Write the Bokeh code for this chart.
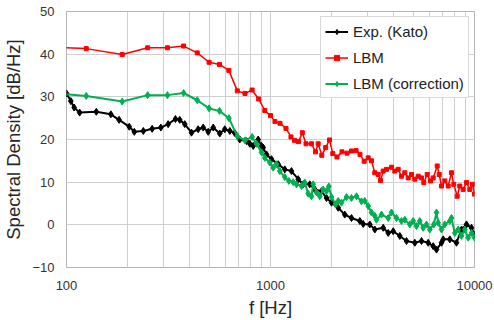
from bokeh.plotting import figure
from bokeh.models import (Legend, LegendItem, SingleIntervalTicker, LogTicker,
                          NumeralTickFormatter, Range1d)
from bokeh.embed import file_html
from bokeh.resources import INLINE

# ---- data ----
exp_f = [100, 105, 109, 116, 140, 165, 181, 203, 215, 238, 263, 290, 315, 342, 359,
         380, 410, 442, 468, 495, 524, 564, 597, 632, 668, 707, 763, 792, 823, 870,
         904, 921, 956, 1011, 1091, 1175, 1267, 1367, 1447, 1558, 1649, 1778, 1882,
         1991, 2147, 2313, 2495, 2741, 2848, 3068, 3246, 3569, 3776, 3995, 4304,
         4642, 5100, 5498, 5929, 6273, 6511, 6890, 7024, 7568, 8162, 8636, 9137,
         9667, 10000]
exp_v = [30.8, 29.0, 27.5, 26.3, 26.5, 25.9, 24.6, 23.0, 21.8, 22.0, 22.5, 22.8, 23.6,
         24.8, 24.6, 23.6, 21.6, 22.4, 22.8, 21.8, 22.8, 21.4, 22.4, 22.0, 21.5, 20.0,
         19.6, 19.0, 18.5, 20.0, 18.5, 18.1, 16.5, 15.4, 14.2, 13.0, 12.6, 10.7, 9.5,
         9.5, 8.3, 7.9, 6.3, 5.2, 4.0, 2.4, 1.6, 0.9, 0.2, 0.1, -1.1, -0.7, -1.9, -1.5,
         -2.6, -3.8, -4.2, -3.8, -4.2, -5.0, -5.8, -4.2, -3.4, -3.4, -4.2, -1.1, 0.1,
         -0.7, -2.3]

lbm_f = [62.5, 125, 187.5, 250, 312.5, 375, 437.5, 500, 562.5, 625, 687.5, 750, 812.5,
         875, 937.5, 1000, 1052, 1113, 1191, 1260, 1311, 1372, 1432, 1493, 1588, 1662,
         1713, 1784, 1864, 1946, 2020, 2118, 2241, 2371, 2495, 2628, 2746, 2879, 3012,
         3127, 3245, 3372, 3461, 3568, 3703, 3918, 4067, 4226, 4386, 4553, 4732, 4911,
         5097, 5297, 5498, 5643, 5863, 6086, 6273, 6564, 6714, 6890, 7151, 7430, 7712,
         7915, 8225, 8469, 8801, 9137, 9484, 9777, 10000]
lbm_v = [41.9, 41.3, 39.9, 41.5, 41.5, 41.9, 40.3, 38.1, 37.6, 36.2, 31.4, 30.8, 31.6,
         29.5, 26.8, 25.6, 24.2, 23.8, 22.6, 20.6, 19.8, 19.5, 21.6, 19.0, 19.0, 17.1,
         19.0, 16.3, 18.1, 19.9, 16.7, 15.9, 17.1, 16.8, 17.3, 17.4, 16.5, 14.9, 15.7,
         15.0, 12.2, 11.8, 10.4, 12.6, 13.0, 13.5, 12.6, 13.0, 11.4, 12.2, 11.0, 11.8,
         10.7, 11.4, 11.0, 9.9, 11.8, 10.3, 11.0, 13.8, 11.8, 9.1, 10.3, 9.1, 12.2,
         9.5, 6.7, 9.1, 8.3, 9.9, 8.3, 9.5, 7.2]

cor_f = [62.5, 125, 187.5, 250, 312.5, 375, 437.5, 500, 562.5, 625, 687.5, 750, 812.5,
         854, 903, 938, 992, 1031, 1070, 1111, 1175, 1230, 1292, 1341, 1419, 1473, 1530,
         1588, 1619, 1681, 1744, 1812, 1881, 1931, 1991, 2083, 2147, 2228, 2358, 2495,
         2640, 2793, 2899, 3012, 3127, 3245, 3308, 3500, 3776, 3918, 4146, 4386, 4553,
         4818, 5006, 5196, 5393, 5605, 5817, 6038, 6317, 6512, 6638, 6890, 7151, 7568,
         7712, 8007, 8318, 8636, 8964, 9310, 9667, 10000]
cor_v = [31.4, 30.2, 28.9, 30.4, 30.4, 30.9, 29.2, 27.3, 26.7, 25.0, 20.8, 19.8, 20.6,
         19.0, 17.0, 15.7, 14.6, 13.4, 14.2, 12.6, 11.2, 10.3, 10.0, 9.5, 9.1, 9.9, 7.3,
         6.7, 9.5, 7.6, 6.7, 8.3, 7.9, 9.0, 6.5, 4.8, 5.6, 5.2, 6.5, 6.3, 6.7, 5.5, 5.6,
         4.4, 2.9, 2.1, 1.2, 2.4, 1.6, 2.9, 1.6, 0.9, 1.2, 0.1, 0.9, -0.3, 0.9, -0.7,
         0.1, -1.1, 0.1, 2.9, 0.5, -1.1, 0.1, 0.9, 1.6, -1.9, -1.1, -2.6, -1.1, -3.0,
         -1.9, -3.0]

series_names = ["Exp. (Kato)", "LBM", "LBM (correction)"]
y_title = "Spectral Density [dB/Hz]"
x_title = "f [Hz]"
y_ticks_interval = 10

FONT = "Liberation Sans"

p = figure(width=494, height=320, x_axis_type="log",
           x_range=Range1d(100, 10000), y_range=Range1d(-10, 50),
           output_backend="svg", toolbar_location=None,
           min_border_left=65, min_border_right=20, min_border_top=11,
           min_border_bottom=53)
p.title.visible = False
p.background_fill_color = "white"
p.border_fill_color = "white"
p.outline_line_color = "#b4b4b4"
p.outline_line_width = 1

# axes
p.xaxis.ticker = LogTicker(num_minor_ticks=10)
p.xaxis.formatter = NumeralTickFormatter(format="0")
p.yaxis.ticker = SingleIntervalTicker(interval=y_ticks_interval, num_minor_ticks=0)
for ax in (p.xaxis[0], p.yaxis[0]):
    ax.axis_line_color = None
    ax.major_tick_line_color = None
    ax.minor_tick_line_color = None
    ax.major_tick_out = 0
    ax.major_tick_in = 0
    ax.minor_tick_out = 0
    ax.minor_tick_in = 0
    ax.major_label_text_font = FONT
    ax.major_label_text_font_size = "13px"
    ax.major_label_text_color = "#333333"
    ax.axis_label_text_font = FONT
    ax.axis_label_text_font_size = "18.5px"
    ax.axis_label_text_font_style = "normal"
    ax.axis_label_text_color = "#262626"
p.xaxis.major_label_standoff = 13
p.xaxis.axis_label = x_title
p.xaxis.axis_label_standoff = 4
p.yaxis.major_label_standoff = 12
p.yaxis.axis_label = y_title
p.yaxis.axis_label_standoff = 5

p.xgrid.grid_line_color = "#cfcfcf"
p.xgrid.minor_grid_line_color = "#cfcfcf"
p.ygrid.grid_line_color = "#cfcfcf"

# series
l1 = p.line(exp_f, exp_v, line_color="black", line_width=2)
s1 = p.scatter(exp_f, exp_v, marker="diamond", size=7, color="black")
l2 = p.line(lbm_f, lbm_v, line_color="#ff0000", line_width=1.5)
s2 = p.scatter(lbm_f, lbm_v, marker="square", size=4, color="#ff0000")
l3 = p.line(cor_f, cor_v, line_color="#00b050", line_width=2)
s3 = p.scatter(cor_f, cor_v, marker="diamond", size=7, color="#00b050")

legend = Legend(items=[LegendItem(label=series_names[0], renderers=[l1, s1]),
                       LegendItem(label=series_names[1], renderers=[l2, s2]),
                       LegendItem(label=series_names[2], renderers=[l3, s3])],
                location=(254, 169))
legend.label_text_font = FONT
legend.label_text_font_size = "15px"
legend.label_text_color = "#222222"
legend.glyph_width = 23
legend.glyph_height = 13
legend.label_height = 20
legend.label_standoff = 5
legend.spacing = 6
legend.padding = 4
legend.margin = 0
legend.border_line_color = "#b4b4b4"
legend.background_fill_alpha = 1
p.add_layout(legend)

open("out.html", "w").write(file_html(p, INLINE))
